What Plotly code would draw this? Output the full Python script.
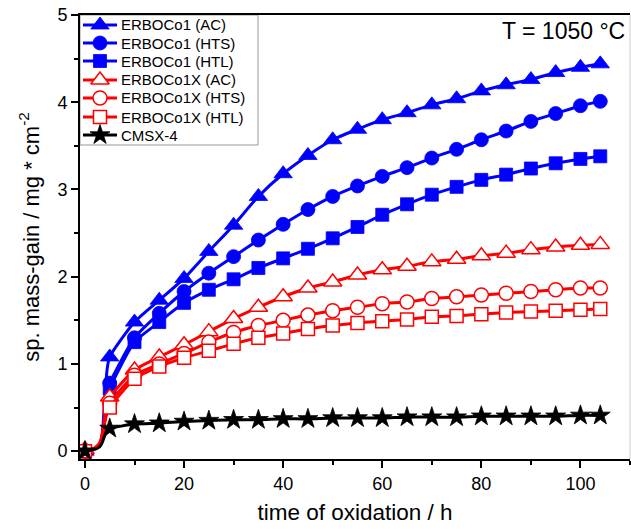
import plotly.graph_objects as go

# marker times (h)
t_mark = [0, 5, 10, 15, 20, 25, 30, 35, 40, 45, 50, 55, 60, 65, 70, 75, 80, 85, 90, 95, 100, 104]
# extra line-only times read from the steep initial rise
t_early = [1, 2, 3, 3.5, 4, 4.5]

erbo1_ac = [0, 1.08, 1.48, 1.73, 1.98, 2.29, 2.59, 2.92, 3.18, 3.39, 3.57, 3.69, 3.80, 3.88, 3.97, 4.04, 4.13, 4.20, 4.26, 4.34, 4.40, 4.44]
erbo1_hts = [0, 0.78, 1.30, 1.58, 1.83, 2.04, 2.23, 2.42, 2.60, 2.77, 2.92, 3.04, 3.15, 3.25, 3.36, 3.46, 3.57, 3.67, 3.78, 3.87, 3.96, 4.01]
erbo1_htl = [0, 0.72, 1.25, 1.48, 1.70, 1.85, 1.97, 2.10, 2.21, 2.32, 2.44, 2.57, 2.71, 2.83, 2.94, 3.03, 3.11, 3.17, 3.24, 3.30, 3.35, 3.38]
erbo1x_ac = [0.02, 0.62, 0.93, 1.08, 1.22, 1.37, 1.52, 1.65, 1.77, 1.87, 1.94, 2.02, 2.08, 2.12, 2.17, 2.20, 2.24, 2.27, 2.31, 2.34, 2.36, 2.37]
erbo1x_hts = [0, 0.55, 0.87, 1.00, 1.12, 1.25, 1.36, 1.44, 1.50, 1.56, 1.61, 1.65, 1.69, 1.71, 1.75, 1.77, 1.79, 1.81, 1.83, 1.85, 1.87, 1.87]
erbo1x_htl = [0, 0.50, 0.83, 0.97, 1.07, 1.15, 1.23, 1.30, 1.35, 1.40, 1.44, 1.47, 1.49, 1.51, 1.54, 1.55, 1.57, 1.59, 1.60, 1.61, 1.62, 1.63]
cmsx4 = [0, 0.26, 0.31, 0.32, 0.34, 0.35, 0.36, 0.36, 0.37, 0.37, 0.38, 0.38, 0.38, 0.39, 0.39, 0.39, 0.40, 0.40, 0.40, 0.40, 0.41, 0.41]

early_erbo1_ac = [0.01, 0.03, 0.08, 0.20, 0.60, 0.95]
early_erbo1_hts = [0.01, 0.03, 0.08, 0.18, 0.45, 0.68]
early_erbo1_htl = [0.01, 0.03, 0.07, 0.16, 0.42, 0.63]
early_erbo1x_ac = [0.02, 0.04, 0.10, 0.20, 0.40, 0.55]
early_erbo1x_hts = [0.01, 0.03, 0.08, 0.17, 0.35, 0.48]
early_erbo1x_htl = [0.01, 0.03, 0.08, 0.16, 0.33, 0.44]
early_cmsx4 = [0.01, 0.02, 0.05, 0.10, 0.18, 0.24]

names = ["ERBOCo1 (AC)", "ERBOCo1 (HTS)", "ERBOCo1 (HTL)",
         "ERBOCo1X (AC)", "ERBOCo1X (HTS)", "ERBOCo1X (HTL)", "CMSX-4"]

series = [
    (erbo1_ac, early_erbo1_ac, "#0000FF", "triangle-up", 16, True),
    (erbo1_hts, early_erbo1_hts, "#0000FF", "circle", 14, True),
    (erbo1_htl, early_erbo1_htl, "#0000FF", "square", 13, True),
    (erbo1x_ac, early_erbo1x_ac, "#FF0000", "triangle-up", 16, False),
    (erbo1x_hts, early_erbo1x_hts, "#FF0000", "circle", 14, False),
    (erbo1x_htl, early_erbo1x_htl, "#FF0000", "square", 13, False),
    (cmsx4, early_cmsx4, "#000000", "star", 15, True),
]

FONT = "Arial, Liberation Sans, sans-serif"
W, H = 631, 529
ML, MR, MT, MB = 80, 1, 15, 70
PW, PH = W - ML - MR, H - MT - MB

def px_x(p):  # pixel -> paper fraction (layout helper for the legend)
    return (p - ML) / PW

def px_y(p):
    return (H - MB - p) / PH

def marker_style(col, sym, size, filled):
    return dict(symbol=sym, size=size,
                color=col if filled else "white",
                opacity=1,
                line=dict(color=col, width=0.8 if filled else 1.5))

fig = go.Figure()
for name, (vals, early, col, sym, size, filled) in zip(names, series):
    t_all = [t_mark[0]] + t_early + t_mark[1:]
    v_all = [vals[0]] + early + vals[1:]
    sizes = [size] + [0] * len(t_early) + [size] * (len(t_mark) - 1)
    fig.add_trace(go.Scatter(
        x=t_all, y=v_all, name=name, mode="lines+markers", showlegend=False,
        line=dict(color=col, width=3, shape="spline", smoothing=0.6),
        marker=marker_style(col, sym, sizes, filled),
    ))

# custom legend (drawn on an overlay axis spanning the plot area in paper units)
leg_rows = [25, 43, 61, 80, 98, 117, 135]
annotations = []
for i, (name, (vals, early, col, sym, size, filled)) in enumerate(zip(names, series)):
    yy = px_y(leg_rows[i])
    fig.add_trace(go.Scatter(
        x=[px_x(83), px_x(100), px_x(117)], y=[yy, yy, yy],
        xaxis="x2", yaxis="y2", mode="lines+markers", showlegend=False, hoverinfo="skip",
        line=dict(color=col, width=3),
        marker=marker_style(col, sym, [0, size, 0], filled),
    ))
    annotations.append(dict(text=name, x=px_x(119), y=yy, xref="paper", yref="paper",
                            xanchor="left", yanchor="middle", showarrow=False,
                            font=dict(size=15, family=FONT, color="black")))

annotations.append(dict(text="T = 1050 °C", x=px_x(627), y=px_y(31), xref="paper", yref="paper",
                        xanchor="right", yanchor="middle", showarrow=False,
                        font=dict(size=23, family=FONT, color="black")))

axis_font = dict(family=FONT, size=18, color="black")
fig.update_layout(
    width=W, height=H,
    margin=dict(l=ML, r=MR, t=MT, b=MB),
    paper_bgcolor="white", plot_bgcolor="white",
    font=dict(family=FONT, color="black"),
    showlegend=False,
    xaxis=dict(range=[-1, 110], tickvals=[0, 20, 40, 60, 80, 100],
               ticks="outside", ticklen=7, tickwidth=1.5, tickcolor="black",
               minor=dict(tickvals=[10, 30, 50, 70, 90, 110], ticks="outside", ticklen=4, tickcolor="black", tickwidth=1.5),
               showline=True, linecolor="black", linewidth=2, mirror=True,
               showgrid=False, zeroline=False, tickfont=axis_font,
               title=dict(text="time of oxidation / h", font=dict(size=22.5, family=FONT), standoff=12)),
    yaxis=dict(range=[-0.09, 5.0], tickvals=[0, 1, 2, 3, 4, 5],
               ticks="outside", ticklen=7, tickwidth=1.5, tickcolor="black",
               minor=dict(tickvals=[0.5, 1.5, 2.5, 3.5, 4.5], ticks="outside", ticklen=4, tickcolor="black", tickwidth=1.5),
               showline=True, linecolor="black", linewidth=2, mirror=False,
               showgrid=False, zeroline=False, tickfont=axis_font,
               title=dict(text="sp. mass-gain / mg * cm<sup>-2</sup>", font=dict(size=22, family=FONT), standoff=12)),
    xaxis2=dict(overlaying="x", range=[0, 1], visible=False, fixedrange=True),
    yaxis2=dict(overlaying="y", range=[0, 1], visible=False, fixedrange=True),
    annotations=annotations,
    shapes=[
        dict(type="line", xref="paper", yref="paper", x0=1, x1=1, y0=0, y1=1,
             line=dict(color="#cccccc", width=1)),
        dict(type="rect", xref="paper", yref="paper", x0=px_x(80), x1=px_x(258),
             y0=px_y(145), y1=1, line=dict(color="#999999", width=1), fillcolor="white", layer="below"),
    ],
)

fig.write_html("out.html")
